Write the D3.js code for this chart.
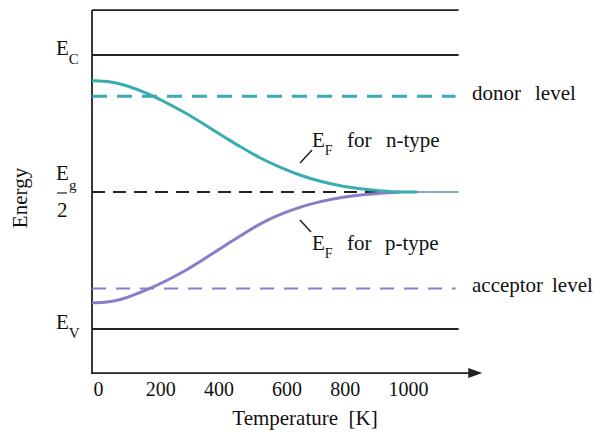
<!DOCTYPE html>
<html>
<head>
<meta charset="utf-8">
<script src="https://cdn.jsdelivr.net/npm/d3@7"></script>
<style>
  body { margin: 0; background: #fff; }
  text { font-family: "Liberation Serif", "Times New Roman", serif; fill: #111; white-space: pre; }
</style>
</head>
<body>
<div id="chart"></div>
<script>
// Fermi level vs temperature (energies relative: E_V = 0, E_C = 1)
const tempK = [0, 40, 80, 170, 290, 420, 470, 530, 600, 660, 720, 790, 850, 910, 975];
const nType = [0.906, 0.904, 0.897, 0.862, 0.792, 0.700, 0.665, 0.626, 0.588, 0.561, 0.540, 0.522, 0.512, 0.505, 0.500];
const pType = [0.096, 0.098, 0.105, 0.142, 0.210, 0.304, 0.340, 0.382, 0.420, 0.445, 0.464, 0.480, 0.489, 0.495, 0.500];
const xTicks = [0, 200, 400, 600, 800, 1000];

const EC = 1, EV = 0, midGap = 0.5;
const donor = 0.849, acceptor = 0.148, topLine = 1.164, axisE = -0.161;
const tEnd = 1160, tArrow = 1235, nEnd = 1030;

const W = 603, H = 435;
const teal = "#3aabb1", purple = "#8a7cc9", dark = "#222";

const svg = d3.select("#chart").append("svg")
    .attr("width", W).attr("height", H);

const x = d3.scaleLinear().domain([0, 1000]).range([92, 408]);
const y = d3.scaleLinear().domain([0, 1]).range([329, 55]);

//Frame lines (top, E_C, E_V)
[topLine, EC, EV].forEach(e => {
    svg.append("line")
        .attr("x1", x(0)).attr("x2", x(tEnd))
        .attr("y1", y(e)).attr("y2", y(e))
        .attr("stroke", dark).attr("stroke-width", 1.8);
});

//Vertical axis
svg.append("line")
    .attr("x1", x(0)).attr("x2", x(0))
    .attr("y1", y(topLine)).attr("y2", y(axisE))
    .attr("stroke", dark).attr("stroke-width", 1.8);

//X axis with arrow
svg.append("line")
    .attr("x1", x(0) - 1).attr("x2", x(tArrow) - 12)
    .attr("y1", y(axisE)).attr("y2", y(axisE))
    .attr("stroke", dark).attr("stroke-width", 1.8);
svg.append("path")
    .attr("d", `M${x(tArrow) - 14},${y(axisE) - 5} L${x(tArrow)},${y(axisE)} L${x(tArrow) - 14},${y(axisE) + 5} Z`)
    .attr("fill", dark);

const xAxis = svg.append("g")
    .attr("transform", `translate(0,${y(axisE)})`)
    .call(d3.axisBottom(x).tickValues(xTicks).tickSize(0).tickPadding(9).tickFormat(d3.format("d")));
xAxis.select(".domain").remove();
xAxis.selectAll("text")
    .style("font-family", '"Liberation Serif", serif')
    .style("font-size", "20px")
    .attr("fill", "#111")
    .attr("dx", d => d === 0 ? 6 : (d === 200 || d === 600 ? 5 : 0));

//Dashed levels
svg.append("line")
    .attr("x1", x(0)).attr("x2", x(tEnd) - 3)
    .attr("y1", y(donor)).attr("y2", y(donor))
    .attr("stroke", teal).attr("stroke-width", 3)
    .attr("stroke-dasharray", "15,10");
svg.append("line")
    .attr("x1", x(0)).attr("x2", x(tEnd) - 3)
    .attr("y1", y(acceptor)).attr("y2", y(acceptor))
    .attr("stroke", purple).attr("stroke-width", 2)
    .attr("stroke-dasharray", "14,10");
svg.append("line")
    .attr("x1", x(0)).attr("x2", x(960))
    .attr("y1", y(midGap)).attr("y2", y(midGap))
    .attr("stroke", dark).attr("stroke-width", 2)
    .attr("stroke-dasharray", "13,8");

//Intrinsic tail
svg.append("line")
    .attr("x1", x(960)).attr("x2", x(tEnd))
    .attr("y1", y(midGap)).attr("y2", y(midGap))
    .attr("stroke", "#6488c8").attr("stroke-width", 1.6);

//Fermi level curves
const line = d3.line()
    .x(d => x(d[0]))
    .y(d => y(d[1]))
    .curve(d3.curveMonotoneX);

const pData = tempK.map((t, i) => [t, pType[i]]);
const nData = tempK.map((t, i) => [t, nType[i]]).concat([[nEnd, midGap]]);

svg.append("path")
    .attr("d", line(pData))
    .attr("fill", "none").attr("stroke", purple).attr("stroke-width", 3);
svg.append("path")
    .attr("d", line(nData))
    .attr("fill", "none").attr("stroke", teal).attr("stroke-width", 3);

//Leader lines
svg.append("line").attr("x1", 300).attr("y1", 163).attr("x2", 312).attr("y2", 150)
    .attr("stroke", dark).attr("stroke-width", 1.5);
svg.append("line").attr("x1", 300).attr("y1", 220).attr("x2", 311).attr("y2", 232)
    .attr("stroke", dark).attr("stroke-width", 1.5);

//Labels
function subLabel(xp, yp, main, sub, size, subSize) {
    const t = svg.append("text").attr("x", xp).attr("y", yp).style("font-size", size + "px");
    t.append("tspan").text(main);
    t.append("tspan").attr("dy", subSize * 0.6).style("font-size", subSize + "px").text(sub);
}
subLabel(56, 55, "E", "C", 21, 15);
subLabel(56, 329, "E", "V", 21, 15);

//E_g / 2 fraction
svg.append("text").attr("x", 56).attr("y", 180).style("font-size", "21px").text("E");
svg.append("text").attr("x", 69).attr("y", 190).style("font-size", "15px").text("g");
svg.append("line").attr("x1", 57).attr("x2", 67).attr("y1", 193).attr("y2", 193)
    .attr("stroke", dark).attr("stroke-width", 1.2);
svg.append("text").attr("x", 57).attr("y", 217).style("font-size", "21px").text("2");

svg.append("text")
    .attr("transform", "translate(27,198) rotate(-90)")
    .attr("text-anchor", "middle")
    .style("font-size", "21px")
    .text("Energy");

subLabel(312, 147, "E", "F", 21, 14);
svg.append("text").attr("x", 347).attr("y", 147).style("font-size", "21px").text("for");
svg.append("text").attr("x", 386).attr("y", 147).style("font-size", "21px").text("n-type");

subLabel(312, 250, "E", "F", 21, 14);
svg.append("text").attr("x", 347).attr("y", 250).style("font-size", "21px").text("for");
svg.append("text").attr("x", 385).attr("y", 250).style("font-size", "21px").text("p-type");

svg.append("text").attr("x", 472).attr("y", 100).style("font-size", "21px").text("donor");
svg.append("text").attr("x", 535).attr("y", 100).style("font-size", "21px").text("level");
svg.append("text").attr("x", 472).attr("y", 292).style("font-size", "21px").text("acceptor");
svg.append("text").attr("x", 552).attr("y", 292).style("font-size", "21px").text("level");

svg.append("text")
    .attr("x", 305).attr("y", 425)
    .attr("text-anchor", "middle")
    .style("font-size", "21px")
    .text("Temperature  [K]");
</script>
</body>
</html>
